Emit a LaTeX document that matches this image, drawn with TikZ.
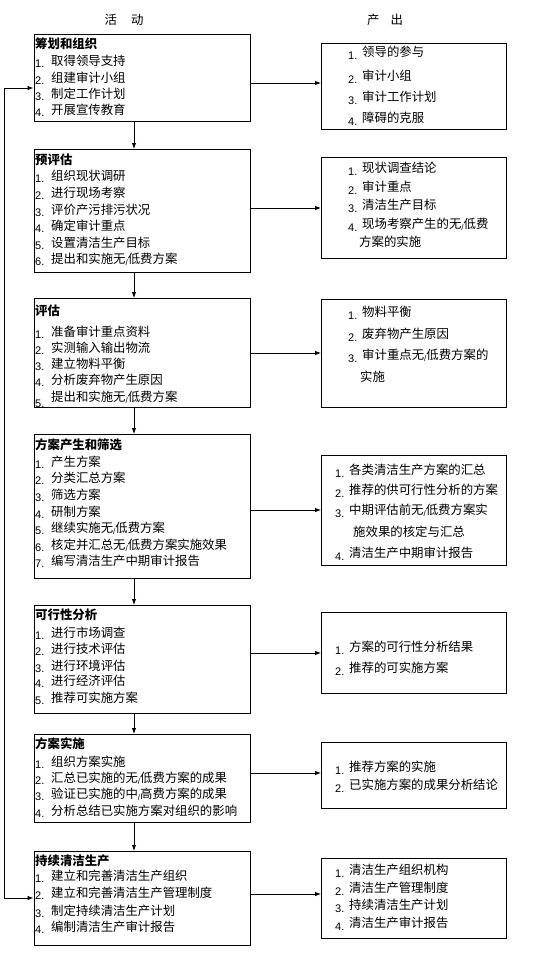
\documentclass[tikz,border=0pt]{standalone}
\usepackage{fontspec}
\setmainfont{Liberation Sans}
\newfontfamily\cjk{Noto Sans CJK SC}
\usetikzlibrary{arrows.meta}
\newcommand\slh{\raisebox{-1.5pt}{\rmfamily\fontsize{8}{8}\selectfont /}}
\newcommand\nmL[1]{\makebox[16pt][l]{\raisebox{-1.5pt}{\rmfamily\fontsize{11}{11}\selectfont #1}}}
\newcommand\nmR[1]{\makebox[14pt][l]{\raisebox{-3pt}{\rmfamily\fontsize{11}{11}\selectfont #1}}}
\newcommand\nmC[1]{\makebox[16pt][l]{\raisebox{-6pt}{\rmfamily\fontsize{11}{11}\selectfont #1}}}
\begin{document}
\begin{tikzpicture}[x=1pt,y=-1pt,
  box/.style={draw=black, line width=1.3pt, inner sep=0pt, anchor=north west},
  lbox/.style={box, minimum width=216.5pt},
  rbox/.style={box, minimum width=185pt},
  itm/.style={anchor=west, inner sep=0pt, text height=10.8pt, text depth=1.5pt, font=\cjk\fontsize{12.4}{12.4}\selectfont},
  ttl/.style={itm, font=\cjk\bfseries\fontsize{12.4}{12.4}\selectfont},
  hdr/.style={itm, anchor=center},
  arr/.style={line width=0.9pt, -{Latex[length=6pt,width=4.5pt]}},
  arr2/.style={line width=0.9pt, {Latex[length=6pt,width=4.5pt]}-{Latex[length=6pt,width=4.5pt]}}]
\useasboundingbox (0,0) rectangle (554,954);
\fill[white] (0,0) rectangle (554,954);

% headers
\node[hdr] (h1) at (124,20) {活\hspace{14pt}动};
\node[hdr] (h2) at (385,20) {产\hspace{11pt}出};

% left boxes
\node[lbox, minimum height=87pt]  (L1) at (33.5,34) {};
\node[lbox, minimum height=123pt] (L2) at (33.5,149) {};
\node[lbox, minimum height=109pt] (L3) at (33.5,298) {};
\node[lbox, minimum height=144pt] (L4) at (33.5,434) {};
\node[lbox, minimum height=108pt] (L5) at (33.5,605) {};
\node[lbox, minimum height=88pt]  (L6) at (33.5,734) {};
\node[lbox, minimum height=94pt]  (L7) at (33.5,851) {};

% right boxes
\node[rbox, minimum height=86pt]  (R1) at (321,43) {};
\node[rbox, minimum height=101pt] (R2) at (321,157) {};
\node[rbox, minimum height=108pt] (R3) at (321,299) {};
\node[rbox, minimum height=110pt] (R4) at (321,455) {};
\node[rbox, minimum height=81pt]  (R5) at (321,612) {};
\node[rbox, minimum height=66pt]  (R6) at (321,742) {};
\node[rbox, minimum height=80pt]  (R7) at (321,858) {};

% left texts
\node[ttl] (L1-0) at (35,44) {筹划和组织};
\foreach \t/\y [count=\i] in {取得领导支持/61, 组建审计小组/78, 制定工作计划/94, 开展宣传教育/110}
  \node[itm] (L1-\i) at (35,\y) {\nmL{\i.}\t};

\node[ttl] (L2-0) at (35,160) {预评估};
\foreach \t/\y [count=\i] in {组织现状调研/176, 进行现场考察/193, 评价产污排污状况/210, 确定审计重点/226, 设置清洁生产目标/243, 提出和实施无\slh 低费方案/259}
  \node[itm] (L2-\i) at (35,\y) {\nmL{\i.}\t};

\begin{scope}
\clip (L3.north west) rectangle (L3.south east);
\node[ttl] (L3-0) at (35,311) {评估};
\foreach \t/\y [count=\i] in {准备审计重点资料/332, 实测输入输出物流/348, 建立物料平衡/364, 分析废弃物产生原因/380}
  \node[itm] (L3-\i) at (35,\y) {\nmL{\i.}\t};
\node[itm] (L3-5) at (35,397) {\nmC{5.}提出和实施无\slh 低费方案};
\end{scope}

\node[ttl] (L4-0) at (35,445) {方案产生和筛选};
\foreach \t/\y [count=\i] in {产生方案/462, 分类汇总方案/478, 筛选方案/495, 研制方案/512, 继续实施无\slh 低费方案/528, 核定并汇总无\slh 低费方案实施效果/545, 编写清洁生产中期审计报告/561}
  \node[itm] (L4-\i) at (35,\y) {\nmL{\i.}\t};

\node[ttl] (L5-0) at (35,615) {可行性分析};
\foreach \t/\y [count=\i] in {进行市场调查/633, 进行技术评估/649, 进行环境评估/666, 进行经济评估/681, 推荐可实施方案/698}
  \node[itm] (L5-\i) at (35,\y) {\nmL{\i.}\t};

\node[ttl] (L6-0) at (35,744) {方案实施};
\foreach \t/\y [count=\i] in {组织方案实施/762, 汇总已实施的无\slh 低费方案的成果/778, 验证已实施的中\slh 高费方案的成果/794, 分析总结已实施方案对组织的影响/811}
  \node[itm] (L6-\i) at (35,\y) {\nmL{\i.}\t};

\node[ttl] (L7-0) at (35,861) {持续清洁生产};
\foreach \t/\y [count=\i] in {建立和完善清洁生产组织/876, 建立和完善清洁生产管理制度/893, 制定持续清洁生产计划/911, 编制清洁生产审计报告/927}
  \node[itm] (L7-\i) at (35,\y) {\nmL{\i.}\t};

% right texts
\foreach \t/\y [count=\i] in {领导的参与/52, 审计小组/76, 审计工作计划/97, 障碍的克服/118}
  \node[itm] (R1-\i) at (348,\y) {\nmR{\i.}\t};

\foreach \t/\y [count=\i] in {现状调查结论/168, 审计重点/187, 清洁生产目标/205, 现场考察产生的无\slh 低费/224}
  \node[itm] (R2-\i) at (348,\y) {\nmR{\i.}\t};
\node[itm] (R2-5) at (359,242) {方案的实施};

\foreach \t/\y [count=\i] in {物料平衡/312, 废弃物产生原因/334, 审计重点无\slh 低费方案的/355}
  \node[itm] (R3-\i) at (348,\y) {\nmR{\i.}\t};
\node[itm] (R3-4) at (360,377) {实施};

\foreach \t/\y [count=\i] in {各类清洁生产方案的汇总/470, 推荐的供可行性分析的方案/490, 中期评估前无\slh 低费方案实/510}
  \node[itm] (R4-\i) at (335,\y) {\nmR{\i.}\t};
\node[itm] (R4-c) at (353,532) {施效果的核定与汇总};
\node[itm] (R4-4) at (335,553) {\nmR{4.}清洁生产中期审计报告};

\foreach \t/\y [count=\i] in {方案的可行性分析结果/647, 推荐的可实施方案/668}
  \node[itm] (R5-\i) at (335,\y) {\nmR{\i.}\t};

\foreach \t/\y [count=\i] in {推荐方案的实施/767, 已实施方案的成果分析结论/785}
  \node[itm] (R6-\i) at (335,\y) {\nmR{\i.}\t};

\foreach \t/\y [count=\i] in {清洁生产组织机构/870, 清洁生产管理制度/888, 持续清洁生产计划/905, 清洁生产审计报告/923}
  \node[itm] (R7-\i) at (335,\y) {\nmR{\i.}\t};

% vertical arrows
\coordinate (vx) at (134,0);
\foreach \a/\b in {L1/L2, L2/L3, L3/L4, L4/L5, L5/L6, L6/L7}
  \draw[arr] (\a.south-|vx) -- (\b.north-|vx);

% horizontal arrows
\foreach \i/\y in {1/83, 2/208, 3/353, 4/510, 5/653, 6/773, 7/894} {
  \coordinate (hy\i) at (0,\y);
  \draw[arr] (L\i.east|-hy\i) -- (R\i.west|-hy\i);
}

% loop
\coordinate (lt) at (4,88);
\coordinate (lb) at (4,898);
\draw[arr2] (L1.west|-lt) -- (lt) -- (lb) -- (L7.west|-lb);
\end{tikzpicture}
\end{document}
